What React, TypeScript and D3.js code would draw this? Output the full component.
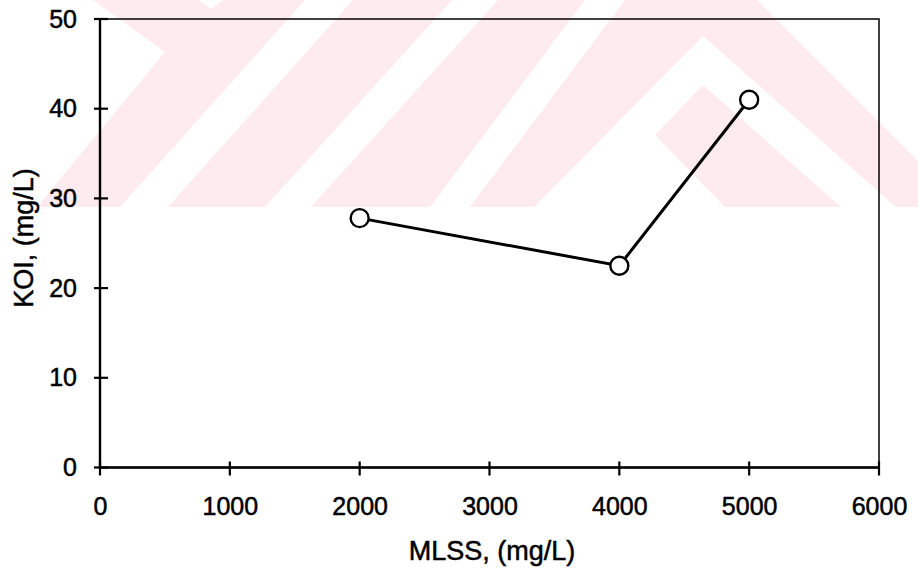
import React, { useEffect, useRef } from "react";
import * as d3 from "d3";

const mlss = [2000, 4000, 5000];
const koi = [27.8, 22.5, 41];
const xTicks = [0, 1000, 2000, 3000, 4000, 5000, 6000];
const yTicks = [0, 10, 20, 30, 40, 50];
const xTitle = "MLSS, (mg/L)";
const yTitle = "KOI, (mg/L)";

// faint pink watermark of the scanned page (only the top band)
const watermarkWhite: [number, number][][] = [
  [[0, 0], [93, 0], [165, 52], [37, 207], [0, 207]],
  [[198, 0], [224, 0], [211, 9]],
  [[305, 0], [353, 0], [168, 207], [120, 207]],
  [[452, 0], [498, 0], [311, 207], [265, 207]],
  [[585, 0], [625, 0], [470, 207], [430, 207]],
  [[757, 0], [918, 0], [918, 161]],
  [[538, 207], [631, 110], [725, 207]],
  [[534, 207], [703, 36], [896, 207], [841, 207], [703, 85], [586, 207]],
];

const App = () => {
  const svgRef = useRef<SVGSVGElement>(null);

  useEffect(() => {
    const width = 918;
    const height = 576;
    const font = "'Liberation Sans', Arial, sans-serif";

    const svg = d3.select(svgRef.current);
    svg.selectAll("*").remove();
    svg.attr("width", width).attr("height", height);

    svg.append("rect").attr("width", width).attr("height", height).attr("fill", "#fff");

    // watermark
    const wm = svg.append("g");
    wm.append("rect")
      .attr("x", 0)
      .attr("y", 0)
      .attr("width", width)
      .attr("height", 207)
      .attr("fill", "#fdebef");
    wm.selectAll("polygon")
      .data(watermarkWhite)
      .enter()
      .append("polygon")
      .attr("points", (d) => d.map((p) => p.join(",")).join(" "))
      .attr("fill", "#fff");

    const x = d3.scaleLinear().domain([0, 6000]).range([100, 879]);
    const y = d3.scaleLinear().domain([0, 50]).range([467.5, 19]);

    // frame
    svg
      .append("rect")
      .attr("x", x(0))
      .attr("y", y(50))
      .attr("width", x(6000) - x(0))
      .attr("height", y(0) - y(50))
      .attr("fill", "none")
      .attr("stroke", "#111")
      .attr("stroke-width", 1.6);
    svg
      .append("line")
      .attr("x1", x(0))
      .attr("x2", x(6000))
      .attr("y1", y(0))
      .attr("y2", y(0))
      .attr("stroke", "#000")
      .attr("stroke-width", 2.4);
    svg
      .append("line")
      .attr("x1", x(0))
      .attr("x2", x(0))
      .attr("y1", y(0))
      .attr("y2", y(50))
      .attr("stroke", "#000")
      .attr("stroke-width", 2.4);

    // y axis labels
    svg
      .append("g")
      .attr("transform", `translate(${x(0)},0)`)
      .call(d3.axisLeft(y).tickValues(yTicks).tickSize(0).tickPadding(23))
      .call((g) => g.select(".domain").remove())
      .selectAll("text")
      .attr("font-family", font)
      .attr("font-size", 25)
      .attr("fill", "#000")
      .attr("stroke", "#000")
      .attr("stroke-width", 0.5);

    // x axis labels
    svg
      .append("g")
      .attr("transform", `translate(0,${y(0)})`)
      .call(d3.axisBottom(x).tickValues(xTicks).tickFormat(d3.format("d")).tickSize(0).tickPadding(30))
      .call((g) => g.select(".domain").remove())
      .selectAll("text")
      .attr("font-family", font)
      .attr("font-size", 25)
      .attr("fill", "#000")
      .attr("stroke", "#000")
      .attr("stroke-width", 0.5);

    // cross ticks
    svg
      .append("g")
      .selectAll("line")
      .data(yTicks)
      .enter()
      .append("line")
      .attr("x1", x(0) - 6)
      .attr("x2", x(0) + 8)
      .attr("y1", (d) => y(d))
      .attr("y2", (d) => y(d))
      .attr("stroke", "#000")
      .attr("stroke-width", 2.2);
    svg
      .append("g")
      .selectAll("line")
      .data(xTicks)
      .enter()
      .append("line")
      .attr("x1", (d) => x(d))
      .attr("x2", (d) => x(d))
      .attr("y1", y(0) - 6)
      .attr("y2", y(0) + 8)
      .attr("stroke", "#000")
      .attr("stroke-width", 2.2);

    // titles
    svg
      .append("text")
      .attr("x", 492)
      .attr("y", 560)
      .attr("text-anchor", "middle")
      .attr("font-family", font)
      .attr("font-size", 27)
      .attr("fill", "#000")
      .attr("stroke", "#000")
      .attr("stroke-width", 0.5)
      .text(xTitle);
    svg
      .append("text")
      .attr("transform", "translate(33,238) rotate(-90)")
      .attr("text-anchor", "middle")
      .attr("font-family", font)
      .attr("font-size", 27)
      .attr("fill", "#000")
      .attr("stroke", "#000")
      .attr("stroke-width", 0.5)
      .text(yTitle);

    // series
    const pts = mlss.map((m, i) => [m, koi[i]] as [number, number]);
    const line = d3
      .line<[number, number]>()
      .x((d) => x(d[0]))
      .y((d) => y(d[1]));
    svg
      .append("path")
      .datum(pts)
      .attr("d", line)
      .attr("fill", "none")
      .attr("stroke", "#000")
      .attr("stroke-width", 3);
    svg
      .selectAll("circle.pt")
      .data(pts)
      .enter()
      .append("circle")
      .attr("class", "pt")
      .attr("cx", (d) => x(d[0]))
      .attr("cy", (d) => y(d[1]))
      .attr("r", 9)
      .attr("fill", "#fff")
      .attr("stroke", "#000")
      .attr("stroke-width", 2.4);
  }, []);

  return <svg ref={svgRef} style={{ position: "absolute", left: 0, top: 0 }}></svg>;
};

export default App;
